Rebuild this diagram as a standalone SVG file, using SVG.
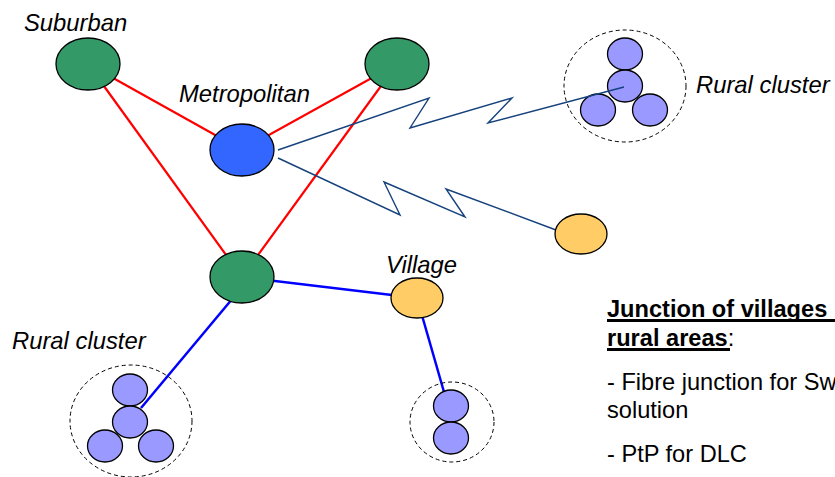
<svg xmlns="http://www.w3.org/2000/svg" width="835" height="477" viewBox="0 0 835 477">
  <style>
    .node { stroke: #000; stroke-width: 1.3; }
    .green { fill: #339966; }
    .metro { fill: #3366FF; }
    .yellow { fill: #FFCC66; }
    .site { fill: #9999FF; stroke: #000; stroke-width: 1.3; }
    .cluster { fill: none; stroke: #000; stroke-width: 1; stroke-dasharray: 4 3; }
    .ring { stroke: #FF0000; stroke-width: 2.2; fill: none; }
    .fibre { stroke: #0000FF; stroke-width: 2.5; fill: none; }
    .radio { stroke: #15427C; stroke-width: 1.4; fill: none; stroke-linejoin: miter; }
    .label { font-family: "Liberation Sans", Arial, sans-serif; font-size: 23.8px; font-style: italic; fill: #000; }
    .note { font-family: "Liberation Sans", Arial, sans-serif; font-size: 23.6px; fill: #000; }
    .head { font-weight: bold; }
  </style>

  <!-- connectors: red core ring, blue fibre spurs, radio links -->
  <g id="connectors">
    <line class="ring" x1="88" y1="64" x2="242" y2="150"/>
    <line class="ring" x1="88" y1="64" x2="242" y2="277"/>
    <line class="ring" x1="397" y1="64" x2="242" y2="150"/>
    <line class="ring" x1="397" y1="64" x2="242" y2="277"/>
    <line class="fibre" x1="242" y1="277" x2="417" y2="298"/>
    <line class="fibre" x1="238" y1="292" x2="141" y2="408"/>
    <line class="fibre" x1="417" y1="298" x2="444" y2="392"/>
    <polyline class="radio" points="278,158 400,215 384,182 465,217 446,189 556,230"/>
  </g>

  <g id="suburban">
    <ellipse class="node green" cx="88" cy="64" rx="32" ry="26"/>
    <text class="label" x="24" y="31">Suburban</text>
  </g>

  <g id="core-east">
    <ellipse class="node green" cx="397" cy="64" rx="32" ry="26"/>
  </g>

  <g id="metropolitan">
    <ellipse class="node metro" cx="242" cy="150" rx="32" ry="26"/>
    <text class="label" x="179" y="102">Metropolitan</text>
  </g>

  <g id="core-south">
    <ellipse class="node green" cx="242" cy="277" rx="32" ry="26"/>
  </g>

  <g id="village">
    <ellipse class="node yellow" cx="417" cy="298" rx="26" ry="20"/>
    <text class="label" x="386" y="273">Village</text>
  </g>

  <g id="village-east">
    <ellipse class="node yellow" cx="581" cy="234" rx="26" ry="20"/>
  </g>

  <g id="rural-cluster-east">
    <ellipse class="cluster" cx="625" cy="86" rx="61" ry="56"/>
    <ellipse class="site" cx="625" cy="54" rx="17.5" ry="16"/>
    <ellipse class="site" cx="598" cy="110" rx="17.5" ry="16"/>
    <ellipse class="site" cx="650" cy="110" rx="17.5" ry="16"/>
    <ellipse class="site" cx="625" cy="86" rx="17.5" ry="16"/>
    <text class="label" x="696" y="93">Rural cluster</text>
  </g>

  <!-- radio link into the eastern cluster, drawn over its sites -->
  <g id="connectors-radio">
    <polyline class="radio" points="278,150 429,98 410,128 512,98 488,123 624,87"/>
  </g>

  <g id="rural-cluster-west">
    <ellipse class="cluster" cx="131" cy="421" rx="61" ry="56"/>
    <ellipse class="site" cx="130" cy="390" rx="17.5" ry="16"/>
    <ellipse class="site" cx="105" cy="446" rx="17.5" ry="16"/>
    <ellipse class="site" cx="156" cy="446" rx="17.5" ry="16"/>
    <ellipse class="site" cx="130" cy="422" rx="17.5" ry="16"/>
    <text class="label" x="12" y="349">Rural cluster</text>
  </g>

  <g id="village-cluster">
    <ellipse class="cluster" cx="452" cy="422" rx="42" ry="40"/>
    <ellipse class="site" cx="451" cy="406" rx="17.5" ry="16"/>
    <ellipse class="site" cx="451" cy="438" rx="17.5" ry="16"/>
  </g>

  <g id="notes">
    <text class="note head" x="607" y="317">Junction of villages</text>
    <rect x="607" y="319" width="228" height="3" fill="#000"/>
    <text class="note" x="607" y="346"><tspan class="head">rural areas</tspan>:</text>
    <rect x="607" y="348" width="123" height="3" fill="#000"/>
    <text class="note" x="607" y="390">- Fibre junction for Sw</text>
    <text class="note" x="607" y="418">solution</text>
    <text class="note" x="607" y="462">- PtP for DLC</text>
  </g>
</svg>
